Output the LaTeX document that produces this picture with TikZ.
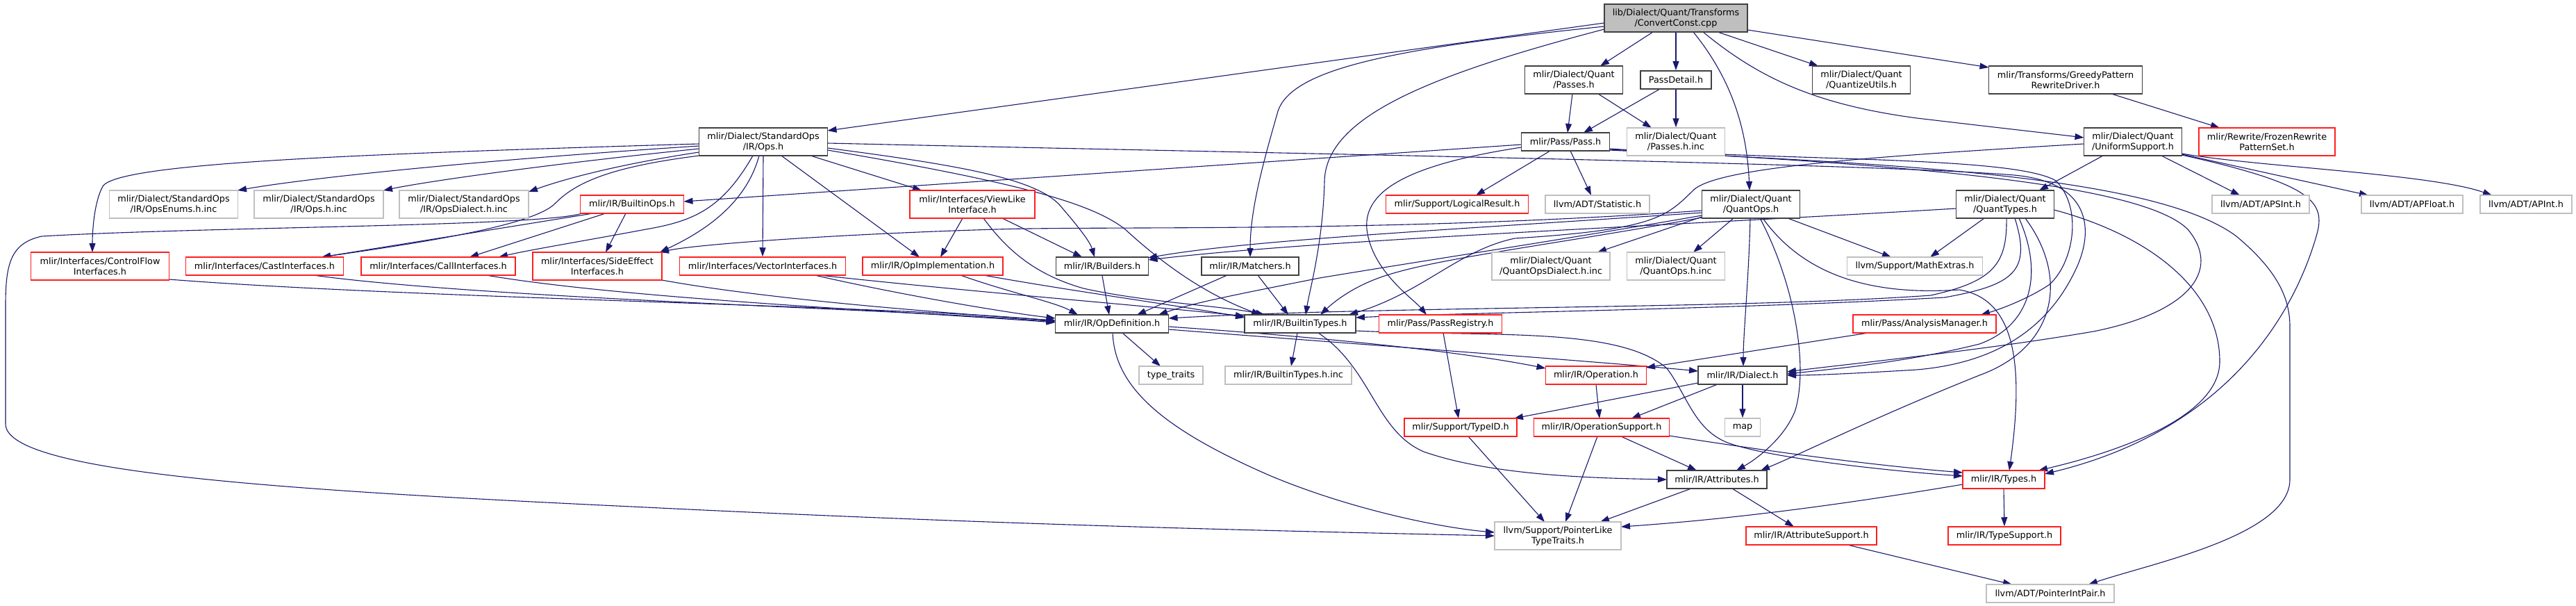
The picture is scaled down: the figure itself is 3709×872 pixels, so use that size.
\documentclass[tikz,border=0pt]{standalone}
\usepackage{fontspec}
\setmainfont{DejaVu Sans}
\usetikzlibrary{arrows.meta}
\definecolor{edgec}{RGB}{25,25,112}
\definecolor{darkb}{RGB}{64,64,64}
\definecolor{greyb}{RGB}{191,191,191}
\definecolor{redb}{RGB}{255,30,30}
\pgfdeclarelayer{edgelayer}
\pgfsetlayers{edgelayer,main}
\tikzset{
  box/.style={rectangle, inner sep=0pt, align=center, font=\fontsize{12.8}{15}\selectfont, minimum height=26pt},
  two/.style={minimum height=40pt},
  bn/.style={box, draw=darkb, line width=1.8pt, fill=white},
  rn/.style={box, draw=redb, line width=1.5pt, fill=white},
  gn/.style={box, draw=greyb, line width=1.5pt, fill=white},
  rootn/.style={box, draw=darkb, line width=1.8pt, fill=greyb},
  e/.style={draw=edgec, line width=1.1pt, -{Triangle[length=13pt,width=9pt]}}
}
\begin{document}
\begin{tikzpicture}[x=1pt,y=-1pt]
\begin{pgfonlayer}{edgelayer}
\fill[white] (0,0) rectangle (3709,872);
\end{pgfonlayer}
\useasboundingbox (0,0) rectangle (3709,872);

% nodes
\node[rootn,two,minimum width=206pt] (root) at (2413,26) {lib/Dialect/Quant/Transforms\\/ConvertConst.cpp};
\node[bn,two,minimum width=185pt] (opsh) at (1099,204) {mlir/Dialect/StandardOps\\/IR/Ops.h};
\node[bn,two,minimum width=141pt] (passesh) at (2266,115) {mlir/Dialect/Quant\\/Passes.h};
\node[bn,minimum width=102pt] (passdetail) at (2413,115) {PassDetail.h};
\node[bn,two,minimum width=141pt] (quantize) at (2680,115) {mlir/Dialect/Quant\\/QuantizeUtils.h};
\node[bn,two,minimum width=221pt] (greedy) at (2974,115) {mlir/Transforms/GreedyPattern\\RewriteDriver.h};
\node[bn,two,minimum width=141pt] (uniform) at (3071,204) {mlir/Dialect/Quant\\/UniformSupport.h};
\node[rn,two,minimum width=196pt] (frozen) at (3264,204) {mlir/Rewrite/FrozenRewrite\\PatternSet.h};
\node[bn,minimum width=127pt] (passh) at (2254,204) {mlir/Pass/Pass.h};
\node[gn,two,minimum width=141pt] (passesinc) at (2413,204) {mlir/Dialect/Quant\\/Passes.h.inc};
\node[bn,two,minimum width=141pt] (quantops) at (2521,294) {mlir/Dialect/Quant\\/QuantOps.h};
\node[bn,two,minimum width=141pt] (quanttypes) at (2887,294) {mlir/Dialect/Quant\\/QuantTypes.h};
\node[rn,minimum width=205pt] (logical) at (2098,294) {mlir/Support/LogicalResult.h};
\node[gn,minimum width=150pt] (statistic) at (2300,294) {llvm/ADT/Statistic.h};
\node[gn,minimum width=140pt] (apsint) at (3255,294) {llvm/ADT/APSInt.h};
\node[gn,minimum width=146pt] (apfloat) at (3473,294) {llvm/ADT/APFloat.h};
\node[gn,minimum width=132pt] (apint) at (3637,294) {llvm/ADT/APInt.h};
\node[gn,two,minimum width=185pt] (opsenums) at (250,294) {mlir/Dialect/StandardOps\\/IR/OpsEnums.h.inc};
\node[gn,two,minimum width=186pt] (opsinc) at (459,294) {mlir/Dialect/StandardOps\\/IR/Ops.h.inc};
\node[gn,two,minimum width=186pt] (opsdialect) at (668,294) {mlir/Dialect/StandardOps\\/IR/OpsDialect.h.inc};
\node[rn,minimum width=149pt] (builtinops) at (910,294) {mlir/IR/BuiltinOps.h};
\node[rn,two,minimum width=180pt] (viewlike) at (1400,294) {mlir/Interfaces/ViewLike\\Interface.h};
\node[rn,two,minimum width=199pt] (controlflow) at (144,383) {mlir/Interfaces/ControlFlow\\Interfaces.h};
\node[rn,minimum width=227pt] (cast) at (381,383) {mlir/Interfaces/CastInterfaces.h};
\node[rn,minimum width=222pt] (call) at (631,383) {mlir/Interfaces/CallInterfaces.h};
\node[rn,two,minimum width=186pt] (sideeffect) at (860,383) {mlir/Interfaces/SideEffect\\Interfaces.h};
\node[rn,minimum width=239pt] (vector) at (1098,383) {mlir/Interfaces/VectorInterfaces.h};
\node[rn,minimum width=202pt] (opimpl) at (1343,383) {mlir/IR/OpImplementation.h};
\node[bn,minimum width=133pt] (builders) at (1587,383) {mlir/IR/Builders.h};
\node[bn,minimum width=140pt] (matchers) at (1800,383) {mlir/IR/Matchers.h};
\node[gn,two,minimum width=170pt] (quantopsdialect) at (2233,383) {mlir/Dialect/Quant\\/QuantOpsDialect.h.inc};
\node[gn,two,minimum width=141pt] (quantopsinc) at (2413,383) {mlir/Dialect/Quant\\/QuantOps.h.inc};
\node[gn,minimum width=195pt] (mathextras) at (2757,383) {llvm/Support/MathExtras.h};
\node[bn,minimum width=163pt] (opdef) at (1601,466) {mlir/IR/OpDefinition.h};
\node[bn,minimum width=160pt] (builtintypes) at (1872,466) {mlir/IR/BuiltinTypes.h};
\node[gn,minimum width=92pt] (typetraits) at (1686,540) {type\_traits};
\node[gn,minimum width=182pt] (builtintypesinc) at (1855,540) {mlir/IR/BuiltinTypes.h.inc};
\node[rn,minimum width=177pt] (passregistry) at (2074,466) {mlir/Pass/PassRegistry.h};
\node[rn,minimum width=206pt] (analysis) at (2771,466) {mlir/Pass/AnalysisManager.h};
\node[rn,minimum width=145pt] (operation) at (2298,540) {mlir/IR/Operation.h};
\node[bn,minimum width=128pt] (dialect) at (2509,540) {mlir/IR/Dialect.h};
\node[rn,minimum width=162pt] (typeid) at (2103,615) {mlir/Support/TypeID.h};
\node[rn,minimum width=195pt] (opsupport) at (2306,615) {mlir/IR/OperationSupport.h};
\node[gn,minimum width=51pt] (map) at (2509,615) {map};
\node[bn,minimum width=144pt] (attributes) at (2472,690) {mlir/IR/Attributes.h};
\node[gn,two,minimum width=182pt] (ptrlike) at (2243,771) {llvm/Support/PointerLike\\TypeTraits.h};
\node[rn,minimum width=188pt] (attrsupport) at (2608,771) {mlir/IR/AttributeSupport.h};
\node[rn,minimum width=118pt] (types) at (2885,690) {mlir/IR/Types.h};
\node[rn,minimum width=162pt] (typesupport) at (2886,771) {mlir/IR/TypeSupport.h};
\node[gn,minimum width=184pt] (ptrintpair) at (2952,854) {llvm/ADT/PointerIntPair.h};

\begin{pgfonlayer}{edgelayer}
% ---------- root ----------
\draw[e] ([shift={(-103,7)}]root.center) -- ([shift={(92.5,-16)}]opsh.center);
\draw[e] ([shift={(-103,12)}]root.center) .. controls (2000,70) and (1860,100) .. (1840,160) .. controls (1820,230) and (1800,300) .. ([shift={(0,-13)}]matchers.center);
\draw[e] ([shift={(-103,16)}]root.center) .. controls (2050,110) and (1910,170) .. (1907,260) .. controls (1905,350) and (1885,420) .. ([shift={(8,-13)}]builtintypes.center);
\draw[e] ([shift={(-33,20)}]root.center) -- ([shift={(38,-20)}]passesh.center);
\draw[e] (root.south) -- (passdetail.north);
\draw[e] ([shift={(25,20)}]root.center) .. controls (2490,110) and (2515,180) .. ([shift={(-2,-20)}]quantops.center);
\draw[e] ([shift={(60,20)}]root.center) -- ([shift={(-62,-20)}]quantize.center);
\draw[e] ([shift={(103,17)}]root.center) -- ([shift={(-110.5,-18)}]greedy.center);
\draw[e] ([shift={(39,20)}]root.center) .. controls (2530,110) and (2610,150) .. (2760,170) .. controls (2870,183) and (2950,192) .. ([shift={(-70.5,-6)}]uniform.center);

% ---------- passes ----------
\draw[e] ([shift={(-2,20)}]passesh.center) -- ([shift={(3,-13)}]passh.center);
\draw[e] ([shift={(35,20)}]passesh.center) -- ([shift={(-35,-20)}]passesinc.center);
\draw[e] ([shift={(-23,13)}]passdetail.center) -- ([shift={(26,-13)}]passh.center);
\draw[e] (passdetail.south) -- (passesinc.north);
\draw[e] ([shift={(66,20)}]greedy.center) -- ([shift={(-68,-20)}]frozen.center);

% ---------- Pass.h ----------
\draw[e] ([shift={(-22,13)}]passh.center) -- ([shift={(27,-13)}]logical.center);
\draw[e] ([shift={(7,13)}]passh.center) -- ([shift={(-9,-13)}]statistic.center);
\draw[e] ([shift={(-63.5,8)}]passh.center) .. controls (2040,235) and (1962,270) .. (1968,330) .. controls (1975,390) and (2035,430) .. ([shift={(-20,-13)}]passregistry.center);
\draw[e] ([shift={(-63.5,4)}]passh.center) -- ([shift={(74.5,-4)}]builtinops.center);
\draw[e] ([shift={(63.5,11)}]passh.center) .. controls (2700,235) and (3080,260) .. (3150,330) .. controls (3200,390) and (3150,450) .. (3014,477) .. controls (2850,505) and (2650,525) .. ([shift={(64,-5)}]dialect.center);
\draw[e] ([shift={(63.5,10)}]passh.center) .. controls (2600,232) and (2900,225) .. (2960,260) .. controls (3000,300) and (2985,380) .. (2950,410) .. controls (2920,430) and (2880,445) .. ([shift={(81,-13)}]analysis.center);
\draw[e] ([shift={(63.5,12)}]passh.center) .. controls (2700,235) and (3100,250) .. (3220,340) .. controls (3280,390) and (3297,430) .. (3297,470) -- (3297,690) .. controls (3297,770) and (3100,810) .. ([shift={(55,-13)}]ptrintpair.center);

% ---------- UniformSupport ----------
\draw[e] ([shift={(-43,20)}]uniform.center) -- ([shift={(49,-20)}]quanttypes.center);
\draw[e] ([shift={(41,20)}]uniform.center) -- ([shift={(-30,-13)}]apsint.center);
\draw[e] ([shift={(70.5,18)}]uniform.center) -- ([shift={(-63,-13)}]apfloat.center);
\draw[e] ([shift={(70.5,17)}]uniform.center) .. controls (3250,240) and (3500,250) .. ([shift={(-49,-13)}]apint.center);
\draw[e] ([shift={(70.5,19)}]uniform.center) .. controls (3330,265) and (3350,290) .. (3335,340) .. controls (3300,460) and (3200,620) .. ([shift={(59,-8)}]types.center);
\draw[e] ([shift={(-70.5,3)}]uniform.center) .. controls (2700,225) and (2480,240) .. (2440,272) .. controls (2400,310) and (2390,330) .. (2181,343) .. controls (2100,360) and (2050,420) .. ([shift={(70,-13)}]builtintypes.center);

% ---------- QuantOps ----------
\draw[e] ([shift={(-25,20)}]quantops.center) -- ([shift={(25,-20)}]quantopsinc.center);
\draw[e] ([shift={(-70.5,18)}]quantops.center) -- ([shift={(67,-20)}]quantopsdialect.center);
\draw[e] ([shift={(53,20)}]quantops.center) -- ([shift={(-34,-13)}]mathextras.center);
\draw[e] ([shift={(-1,20)}]quantops.center) .. controls (2518,400) and (2510,480) .. ([shift={(1,-13)}]dialect.center);
\draw[e] ([shift={(13,20)}]quantops.center) .. controls (2580,400) and (2605,520) .. (2585,590) .. controls (2570,630) and (2530,660) .. ([shift={(28,-13)}]attributes.center);
\draw[e] ([shift={(17,20)}]quantops.center) .. controls (2600,400) and (2700,425) .. (2821,417) .. controls (2900,430) and (2915,520) .. ([shift={(8,-13)}]types.center);
\draw[e] ([shift={(-70.5,9)}]quantops.center) .. controls (2000,335) and (1600,325) .. (1434,330) .. controls (1200,337) and (1000,352) .. ([shift={(90,-20)}]sideeffect.center);
\draw[e] ([shift={(-70.5,12)}]quantops.center) .. controls (2100,330) and (1800,345) .. ([shift={(66,-12)}]builders.center);
\draw[e] ([shift={(-70.5,16)}]quantops.center) .. controls (2250,345) and (2050,375) .. (1900,400) .. controls (1800,420) and (1720,435) .. ([shift={(67,-13)}]opdef.center);
\draw[e] ([shift={(-70.5,19)}]quantops.center) .. controls (2250,350) and (2080,370) .. (2000,395) .. controls (1950,410) and (1920,435) .. ([shift={(29,-13)}]builtintypes.center);

% ---------- QuantTypes ----------
\draw[e] ([shift={(-30,20)}]quanttypes.center) -- ([shift={(22,-13)}]mathextras.center);
\draw[e] ([shift={(70.5,8)}]quanttypes.center) .. controls (3100,340) and (3196,420) .. (3196,520) .. controls (3196,600) and (3050,650) .. ([shift={(50,-13)}]types.center);
\draw[e] ([shift={(29,20)}]quanttypes.center) .. controls (2980,400) and (2960,500) .. (2850,540) .. controls (2700,600) and (2600,650) .. ([shift={(63,-13)}]attributes.center);
\draw[e] ([shift={(20,20)}]quanttypes.center) .. controls (2945,400) and (2920,470) .. (2850,495) .. controls (2750,520) and (2650,530) .. ([shift={(64,-2)}]dialect.center);
\draw[e] ([shift={(2,20)}]quanttypes.center) .. controls (2890,380) and (2870,405) .. (2780,425) .. controls (2500,445) and (2000,440) .. ([shift={(81.5,-8)}]opdef.center);
\draw[e] ([shift={(14,20)}]quanttypes.center) .. controls (2925,390) and (2900,410) .. (2800,428) .. controls (2500,445) and (2100,450) .. ([shift={(80,-9)}]builtintypes.center);
\draw[e] ([shift={(-70.5,6)}]quanttypes.center) .. controls (2400,325) and (1900,345) .. ([shift={(66.5,-9)}]builders.center);

% ---------- StandardOps Ops.h ----------
\draw[e] ([shift={(-92.5,6)}]opsh.center) .. controls (700,230) and (450,255) .. ([shift={(92,-20)}]opsenums.center);
\draw[e] ([shift={(-92.5,10)}]opsh.center) .. controls (800,235) and (620,260) .. ([shift={(93,-20)}]opsinc.center);
\draw[e] ([shift={(-92.5,15)}]opsh.center) .. controls (900,235) and (820,255) .. ([shift={(93,-18)}]opsdialect.center);
\draw[e] ([shift={(-92.5,3)}]opsh.center) .. controls (500,222) and (170,235) .. (148,268) .. controls (136,290) and (133,330) .. ([shift={(-11,-20)}]controlflow.center);
\draw[e] ([shift={(-92.5,20)}]opsh.center) .. controls (880,240) and (830,262) .. (800,292) .. controls (770,325) and (600,350) .. ([shift={(82,-13)}]cast.center);
\draw[e] ([shift={(-15,20)}]opsh.center) .. controls (1040,300) and (1000,318) .. (930,330) .. controls (850,345) and (760,360) .. ([shift={(87,-13)}]call.center);
\draw[e] ([shift={(-6,20)}]opsh.center) .. controls (1075,290) and (1020,330) .. ([shift={(90,-20)}]sideeffect.center);
\draw[e] (opsh.south) -- (vector.north);
\draw[e] ([shift={(26,20)}]opsh.center) -- ([shift={(-19,-13)}]opimpl.center);
\draw[e] ([shift={(68,20)}]opsh.center) -- ([shift={(-73,-20)}]viewlike.center);
\draw[e] ([shift={(92.5,9)}]opsh.center) .. controls (1400,240) and (1500,260) .. (1530,300) .. controls (1560,335) and (1570,350) .. ([shift={(-11,-13)}]builders.center);
\draw[e] ([shift={(92.5,12)}]opsh.center) .. controls (1450,260) and (1570,290) .. (1620,330) .. controls (1680,385) and (1740,425) .. ([shift={(-57,-13)}]builtintypes.center);
\draw[e] ([shift={(92.5,2)}]opsh.center) .. controls (1800,220) and (2700,235) .. (2900,252) .. controls (3010,262) and (3015,330) .. (2990,385) .. controls (2960,450) and (2900,520) .. (2760,532) .. controls (2660,538) and (2610,540) .. ([shift={(64,0)}]dialect.center);

% ---------- BuiltinOps ----------
\draw[e] ([shift={(-56,13)}]builtinops.center) -- ([shift={(82,-13)}]cast.center);
\draw[e] ([shift={(-38,13)}]builtinops.center) -- ([shift={(45,-13)}]call.center);
\draw[e] ([shift={(-9,13)}]builtinops.center) -- ([shift={(12,-20)}]sideeffect.center);
\draw[e] ([shift={(-72,13)}]builtinops.center) .. controls (780,326) and (300,326) .. (60,340) .. controls (15,350) and (8,380) .. (8,440) -- (8,610) .. controls (8,680) and (400,705) .. (930,730) .. controls (1500,758) and (1900,765) .. ([shift={(-91,0)}]ptrlike.center);

% ---------- ViewLike ----------
\draw[e] ([shift={(-14,20)}]viewlike.center) -- ([shift={(11,-13)}]opimpl.center);
\draw[e] ([shift={(43,20)}]viewlike.center) -- ([shift={(-29,-13)}]builders.center);
\draw[e] ([shift={(16,20)}]viewlike.center) .. controls (1450,360) and (1490,395) .. (1560,415) .. controls (1650,435) and (1760,440) .. ([shift={(-51,-13)}]builtintypes.center);

% ---------- interfaces -> OpDefinition ----------
\draw[e] ([shift={(99.5,19)}]controlflow.center) .. controls (600,430) and (1300,440) .. ([shift={(-81.5,-4)}]opdef.center);
\draw[e] ([shift={(70,13)}]cast.center) .. controls (700,430) and (1300,445) .. ([shift={(-81.5,-3)}]opdef.center);
\draw[e] ([shift={(69,13)}]call.center) .. controls (900,430) and (1300,448) .. ([shift={(-81.5,-2)}]opdef.center);
\draw[e] ([shift={(93,20)}]sideeffect.center) .. controls (1100,430) and (1350,450) .. ([shift={(-81.5,-5)}]opdef.center);
\draw[e] ([shift={(75,13)}]vector.center) .. controls (1300,425) and (1450,450) .. ([shift={(-81.5,-8)}]opdef.center);
\draw[e] ([shift={(82,13)}]vector.center) .. controls (1400,420) and (1650,440) .. ([shift={(-80,-11)}]builtintypes.center);
\draw[e] ([shift={(40,13)}]opimpl.center) .. controls (1450,420) and (1520,435) .. ([shift={(-49,-13)}]opdef.center);
\draw[e] ([shift={(73,13)}]opimpl.center) .. controls (1550,420) and (1700,440) .. ([shift={(-80,-9)}]builtintypes.center);
\draw[e] (builders.south) -- ([shift={(-4,-13)}]opdef.center);
\draw[e] ([shift={(-33,13)}]matchers.center) -- ([shift={(36,-13)}]opdef.center);
\draw[e] ([shift={(11,13)}]matchers.center) -- ([shift={(-17,-13)}]builtintypes.center);

% ---------- OpDefinition ----------
\draw[e] ([shift={(15,13)}]opdef.center) -- ([shift={(-15,-13)}]typetraits.center);
\draw[e] ([shift={(1,13)}]opdef.center) .. controls (1605,560) and (1680,620) .. (1830,685) .. controls (1950,735) and (2080,760) .. ([shift={(-91,-5)}]ptrlike.center);
\draw[e] ([shift={(81.5,4)}]opdef.center) .. controls (1900,485) and (2100,505) .. ([shift={(-72.5,-10)}]operation.center);
\draw[e] ([shift={(81.5,8)}]opdef.center) .. controls (1950,495) and (2300,520) .. ([shift={(-64,-6)}]dialect.center);

% ---------- BuiltinTypes ----------
\draw[e] ([shift={(-4,13)}]builtintypes.center) -- ([shift={(4,-13)}]builtintypesinc.center);
\draw[e] ([shift={(26,13)}]builtintypes.center) .. controls (1975,530) and (1980,620) .. (2050,650) .. controls (2150,685) and (2300,688) .. ([shift={(-72,0)}]attributes.center);
\draw[e] ([shift={(80,10)}]builtintypes.center) .. controls (2150,485) and (2330,470) .. (2400,530) .. controls (2430,570) and (2440,620) .. (2490,638) .. controls (2560,662) and (2750,680) .. ([shift={(-59,-5)}]types.center);

% ---------- lower part ----------
\draw[e] ([shift={(4,13)}]passregistry.center) -- ([shift={(-3,-13)}]typeid.center);
\draw[e] ([shift={(-81,13)}]analysis.center) -- ([shift={(72,-11)}]operation.center);
\draw[e] (operation.south) -- ([shift={(-3,-13)}]opsupport.center);
\draw[e] ([shift={(-64,11)}]dialect.center) -- ([shift={(77,-13)}]typeid.center);
\draw[e] ([shift={(-36,13)}]dialect.center) -- ([shift={(43,-13)}]opsupport.center);
\draw[e] (dialect.south) -- (map.north);
\draw[e] ([shift={(28,13)}]opsupport.center) -- ([shift={(-29,-13)}]attributes.center);
\draw[e] ([shift={(-6,13)}]opsupport.center) -- ([shift={(11,-20)}]ptrlike.center);
\draw[e] ([shift={(97.5,12)}]opsupport.center) .. controls (2550,650) and (2700,670) .. ([shift={(-59,-10)}]types.center);
\draw[e] ([shift={(11,13)}]typeid.center) -- ([shift={(-19,-20)}]ptrlike.center);
\draw[e] ([shift={(-37,13)}]attributes.center) -- ([shift={(61,-20)}]ptrlike.center);
\draw[e] ([shift={(22,13)}]attributes.center) -- ([shift={(-25,-13)}]attrsupport.center);
\draw[e] (types.south) -- (typesupport.north);
\draw[e] ([shift={(-59,7)}]types.center) .. controls (2600,735) and (2450,750) .. ([shift={(91,-13)}]ptrlike.center);
\draw[e] ([shift={(52,13)}]attrsupport.center) -- ([shift={(-55,-13)}]ptrintpair.center);
\end{pgfonlayer}
\end{tikzpicture}
\end{document}
